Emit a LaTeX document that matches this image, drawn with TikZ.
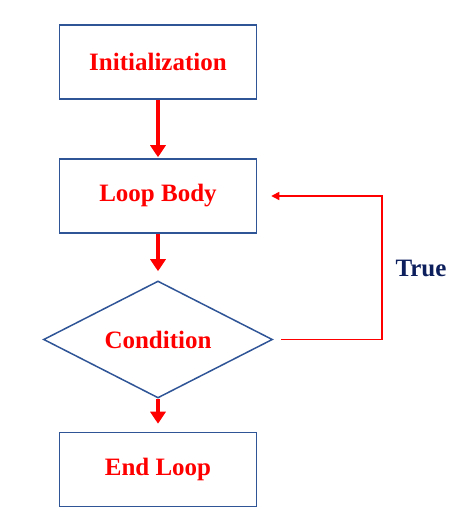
\documentclass[tikz,border=0pt]{standalone}
\usepackage{fontspec}
\setmainfont{Liberation Serif}
\usetikzlibrary{shapes.geometric, arrows.meta}
\definecolor{boxblue}{HTML}{2F5597}
\definecolor{flowred}{HTML}{FF0000}
\definecolor{navy}{HTML}{0D1F5C}

\begin{document}
\begin{tikzpicture}[x=1pt, y=1pt,
    stepbox/.style={draw=boxblue, line width=1.5pt, rectangle, minimum width=197pt, minimum height=74pt, inner sep=0pt, font=\fontsize{25}{28}\selectfont\bfseries, text=flowred},
    testbox/.style={draw=boxblue, line width=1.5pt, diamond, shape aspect=1.96, minimum width=229pt, minimum height=117pt, inner sep=0pt, font=\fontsize{25}{28}\selectfont\bfseries, text=flowred},
    flow/.style={draw=flowred, line width=4.5pt, -{Triangle[width=15pt, length=12pt]}},
    backflow/.style={draw=flowred, line width=1.5pt, -{Triangle[width=8pt, length=8pt]}}]
      \useasboundingbox (0,0) rectangle (474,520);
      \node[stepbox] (init) at (158,458) {Initialization};
      \node[stepbox] (body) at (158,324) {Loop Body};
      \node[testbox] (cond) at (158,180.5) {Condition};
      \node[stepbox] (done) at (158,50.5) {End Loop};
      \coordinate (side) at (382,0);
      %
      \draw[flow, shorten >=1pt] (init.south) -- (body.north);
      \draw[flow, shorten >=9pt] (body.south) -- (cond.north);
      \draw[flow, shorten >=8pt] (cond.south) -- (done.north);
      %
      \draw[backflow, shorten <=8pt, shorten >=14pt] (cond.east) -- (cond.east -| side) -- (body.east -| side) -- (body.east);
      %
      \node[text=navy, font=\fontsize{25}{28}\selectfont\bfseries] (truetxt) at (421,252) {True};
\end{tikzpicture}
\end{document}
